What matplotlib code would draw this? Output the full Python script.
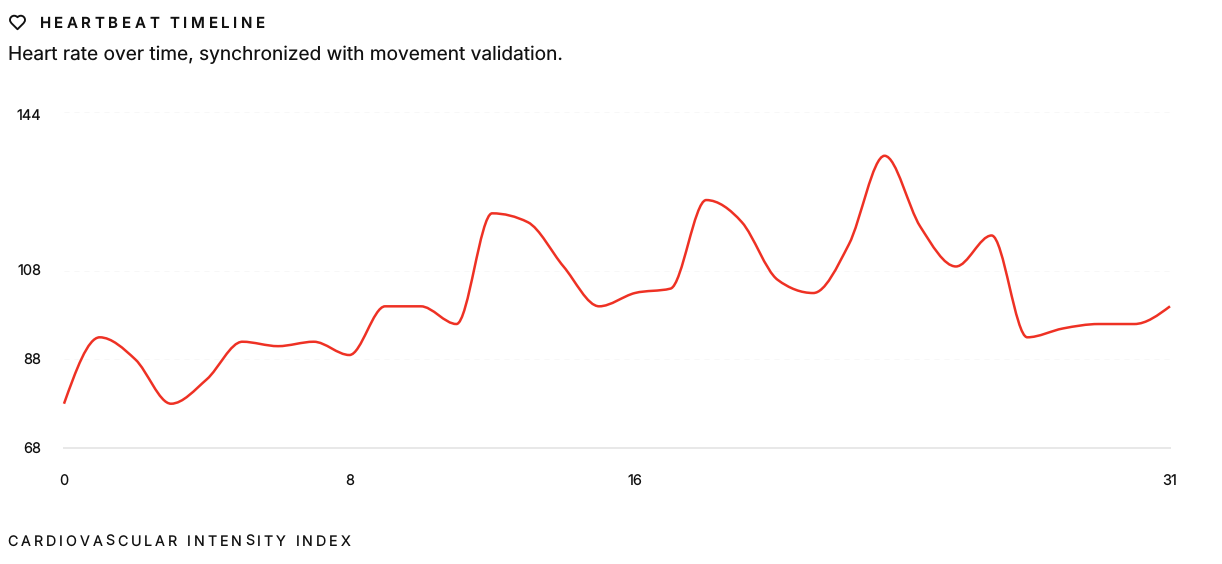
#!/usr/bin/env python3
"""
Heartbeat timeline chart
"""

import matplotlib.pyplot as plt
import numpy as np
from matplotlib.patches import PathPatch
from matplotlib.path import Path
from matplotlib.transforms import Affine2D, ScaledTranslation

plt.rcParams["font.family"] = ["Inter", "DejaVu Sans"]
plt.rcParams["text.hinting"] = "no_hinting"

# Data
minutes = list(range(32))
heart_rate = [78, 93, 88, 78, 83.5, 92, 91, 92, 89, 100, 100, 96, 121, 119, 109, 100,
              103, 104, 124, 119, 106, 103, 114, 134, 118, 109, 116, 93, 95, 96, 96, 100]
x_ticks = [0, 8, 16, 31]
y_ticks = [68, 88, 108, 144]

W, H = 1222, 564
PX = 72 / 100  # points per pixel at dpi 100


def monotone_path(x, y):
    """Bezier path through the points, same as d3 curveMonotoneX"""
    x = np.asarray(x, dtype=float)
    y = np.asarray(y, dtype=float)
    h = np.diff(x)
    s = np.diff(y) / h
    t = np.zeros_like(y)
    for i in range(1, len(y) - 1):
        p = (s[i - 1] * h[i] + s[i] * h[i - 1]) / (h[i - 1] + h[i])
        t[i] = (np.sign(s[i - 1]) + np.sign(s[i])) * min(
            abs(s[i - 1]), abs(s[i]), 0.5 * abs(p)
        )
    t[0] = (3 * s[0] - t[1]) / 2
    t[-1] = (3 * s[-1] - t[-2]) / 2

    verts = [(x[0], y[0])]
    codes = [Path.MOVETO]
    for i in range(len(x) - 1):
        d = h[i] / 3
        verts += [(x[i] + d, y[i] + d * t[i]), (x[i + 1] - d, y[i + 1] - d * t[i + 1]),
                  (x[i + 1], y[i + 1])]
        codes += [Path.CURVE4] * 3
    return Path(verts, codes)


def spaced_text(fig, x, y, s, spacing, **kwargs):
    """Write text one character at a time with letter spacing (pixels)"""
    renderer = fig.canvas.get_renderer()
    for ch in s:
        fig.text(x / W, 1 - y / H, ch, ha="left", va="baseline", **kwargs)
        probe = fig.text(0, 0, "n" + ch + "n", **kwargs)
        probe2 = fig.text(0, 0, "nn", **kwargs)
        adv = probe.get_window_extent(renderer).width - probe2.get_window_extent(renderer).width
        probe.remove()
        probe2.remove()
        x += adv + spacing


def heart_icon(fig, left, top, size):
    """Outline heart in a 24 unit box"""
    k = 0.5523 * 5.5
    M, L, C, Z = Path.MOVETO, Path.LINETO, Path.CURVE4, Path.CLOSEPOLY
    verts = [
        (19, 14), (20.49, 12.54), (22, 10.79), (22, 8.5),
        (22, 8.5 - k), (16.5 + k, 3), (16.5, 3),
        (14.74, 3), (13.5, 3.5), (12, 5),
        (10.5, 3.5), (9.26, 3), (7.5, 3),
        (7.5 - k, 3), (2, 8.5 - k), (2, 8.5),
        (2, 10.8), (3.5, 12.55), (5, 14),
        (12, 21), (19, 14),
    ]
    codes = [M] + [C] * 18 + [L, Z]
    tr = Affine2D().scale(size / 24, -size / 24).translate(left, H - top)
    fig.add_artist(PathPatch(Path(verts, codes), fill=False, edgecolor="#111111",
                             linewidth=1.9 * PX, transform=tr, joinstyle="round"))


fig = plt.figure(figsize=(W / 100, H / 100), dpi=100, facecolor="white")
ax = fig.add_axes([64 / W, 1 - 448 / H, (1170 - 64) / W, (448 - 111.5) / H])
ax.set_xlim(0, 31)
ax.set_ylim(68, 144)
ax.patch.set_alpha(0)
for side in ["top", "right", "left"]:
    ax.spines[side].set_visible(False)
ax.spines["bottom"].set_color("#e8e8e8")
ax.spines["bottom"].set_linewidth(2 * PX)

ax.set_xticks(x_ticks)
ax.set_yticks(y_ticks)
ax.tick_params(axis="x", length=0, pad=27.5 * PX, labelsize=14.5 * PX, labelcolor="#111111")
ax.tick_params(axis="y", length=0, pad=23 * PX, labelsize=14.5 * PX, labelcolor="#111111")
ax.grid(True, axis="y", color="#f7f7f7", linewidth=1 * PX, linestyle=(0, (5, 5)))
ax.set_axisbelow(True)

# top label sits a bit lower than its gridline
top_label = ax.get_yticklabels()[-1]
top_label.set_transform(top_label.get_transform() + ScaledTranslation(0, -3.5 / 100, fig.dpi_scale_trans))

ax.add_patch(PathPatch(monotone_path(minutes, heart_rate), fill=False, edgecolor="#ee3124",
                       linewidth=2.5 * PX, capstyle="butt", joinstyle="round", clip_on=False))

# Header and footer
heart_icon(fig, 8.5, 13.5, 18)
spaced_text(fig, 39.5, 28, "HEARTBEAT TIMELINE", 3.6, fontsize=15 * PX, fontweight="semibold", color="#111111")
fig.text(8 / W, 1 - 60 / H, "Heart rate over time, synchronized with movement validation.",
         fontsize=19.1 * PX, color="#111111", va="baseline")
spaced_text(fig, 7.5, 546, "CARDIOVASCULAR INTENSITY INDEX", 2.93, fontsize=14.3 * PX, color="#111111")

fig.savefig("out.png", dpi=100, facecolor="white")
